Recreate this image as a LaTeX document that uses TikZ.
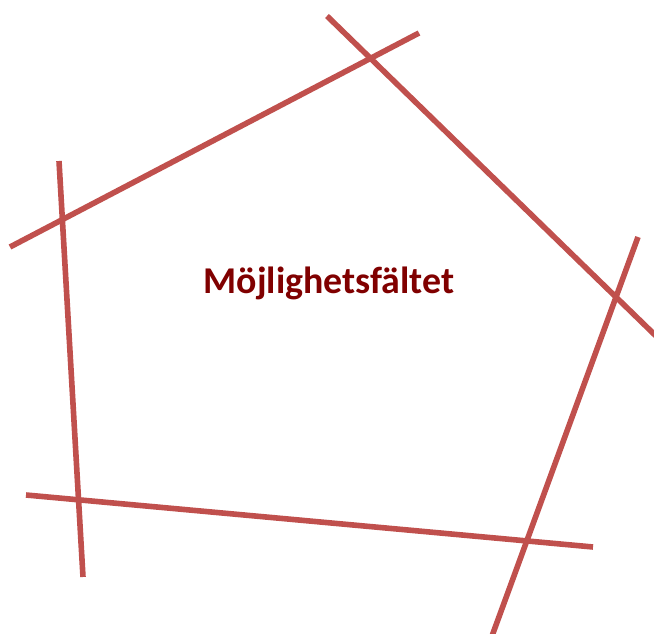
\documentclass[tikz,border=0pt]{standalone}
\usepackage{fontspec}
\setmainfont{Carlito}
\usepackage{xcolor}
\definecolor{cline}{HTML}{C0504D}
\definecolor{ctext}{HTML}{800000}

\begin{document}
\begin{tikzpicture}[
  x=0.75pt,y=-0.75pt,
  bound/.style={draw=cline,line width=4.2pt},
  title/.style={font=\fontsize{28.4}{32}\selectfont\bfseries,text=ctext,inner sep=0pt}
]
  \useasboundingbox (0,0) rectangle (654,634);

  % Constraint end points
  \coordinate (a1) at (10,247);   \coordinate (a2) at (419,33);
  \coordinate (b1) at (327,16);   \coordinate (b2) at (656,336);
  \coordinate (c1) at (638,237);  \coordinate (c2) at (492,636);
  \coordinate (d1) at (26,495);   \coordinate (d2) at (593,547);
  \coordinate (e1) at (59,161);   \coordinate (e2) at (83,577);

  % Constraint lines
  \draw[bound] (a1) -- (a2);
  \draw[bound] (b1) -- (b2);
  \draw[bound] (c1) -- (c2);
  \draw[bound] (d1) -- (d2);
  \draw[bound] (e1) -- (e2);

  % Feasible region label
  \node[title] (region) at (329,283) {Möjlighetsfältet};
\end{tikzpicture}
\end{document}
